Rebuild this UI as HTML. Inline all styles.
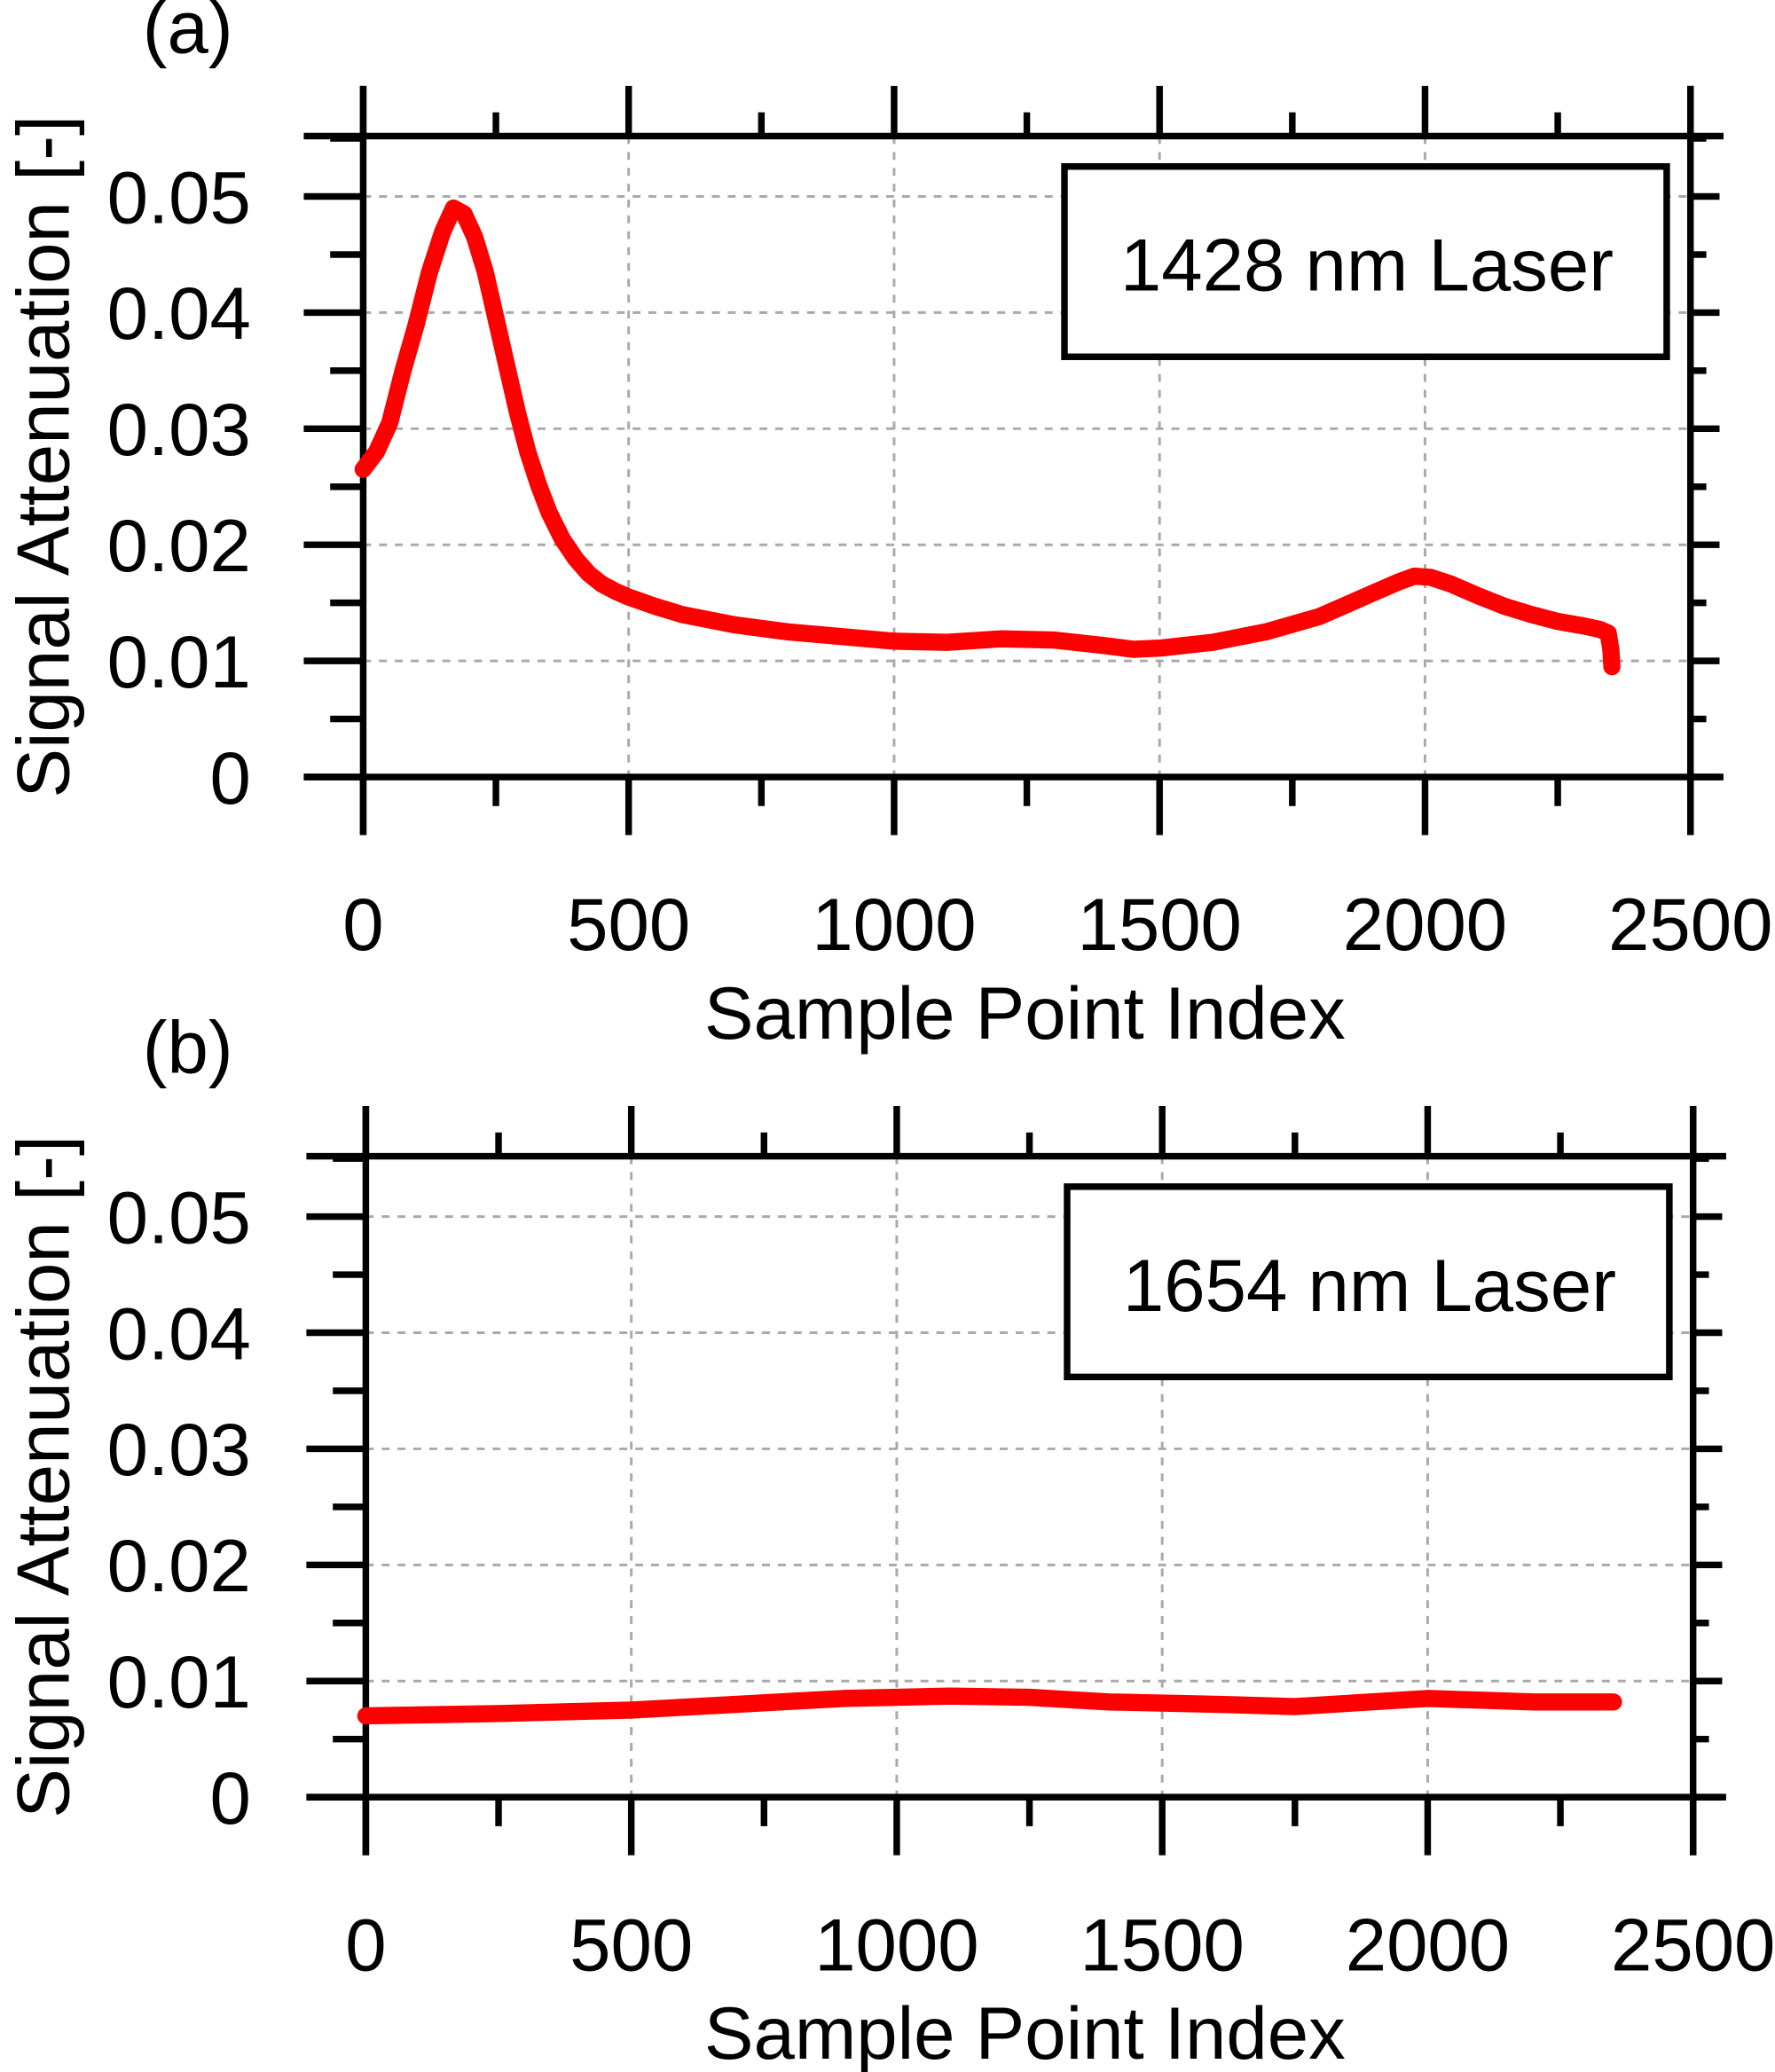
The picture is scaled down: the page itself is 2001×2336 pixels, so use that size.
<!DOCTYPE html>
<html><head><meta charset="utf-8"><style>
html,body{margin:0;padding:0;background:#fff}
svg{display:block}
text{font-family:"Liberation Sans",Arial,sans-serif;fill:#000}
</style></head><body>
<svg id="chart" width="2001" height="2336" viewBox="0 0 1344 1568" preserveAspectRatio="none" xmlns="http://www.w3.org/2000/svg"></svg>
<script>
const xTicks=[0,500,1000,1500,2000,2500];
const yTicks=[0,0.01,0.02,0.03,0.04,0.05];
const yTickLabels=["0","0.01","0.02","0.03","0.04","0.05"];
const aX=[0,25,50,75,100,125,150,170,190,210,230,250,270,290,310,330,350,375,400,425,450,475,500,550,600,700,800,900,1000,1100,1200,1300,1400,1450,1500,1600,1700,1800,1900,1950,1980,2010,2050,2100,2150,2200,2250,2300,2330,2345,2350,2352];
const aY=[0.0265,0.028,0.0305,0.035,0.039,0.0435,0.047,0.049,0.0485,0.0465,0.0435,0.0395,0.0355,0.0315,0.028,0.0252,0.0228,0.0205,0.0188,0.0175,0.0166,0.016,0.0155,0.0147,0.014,0.0131,0.0125,0.0121,0.0117,0.0116,0.0119,0.0118,0.0113,0.011,0.0111,0.0116,0.0125,0.0138,0.0158,0.0168,0.0173,0.0172,0.0166,0.0156,0.0147,0.014,0.0134,0.013,0.0127,0.0124,0.011,0.0095];
const bX=[0,250,500,700,900,1100,1250,1400,1600,1750,2000,2200,2350];
const bY=[0.0070,0.0072,0.0075,0.0080,0.0085,0.0087,0.0086,0.0082,0.0080,0.0078,0.0085,0.0082,0.0082];
const svg=document.getElementById('chart');
const NS="http://www.w3.org/2000/svg";
function mk(tag,attrs,parent){const e=document.createElementNS(NS,tag);for(const k in attrs)e.setAttribute(k,attrs[k]);(parent||svg).appendChild(e);return e;}
function panel(top,left,tag,label,xs,ys,name){
  const right=left+1005,bottom=top+485;
  const sx=v=>left+v/2500*(right-left);
  const sy=v=>bottom-v/0.0552*(bottom-top);
  const g=mk('g',{});
  
  
  xTicks.slice(1,5).forEach(t=>{const l=mk('line',{x1:sx(t),x2:sx(t),y1:top,y2:bottom,stroke:'#aaa','stroke-width':2,'stroke-dasharray':'6,6'},g);});
  yTicks.slice(1).forEach(t=>{const l=mk('line',{x1:left,x2:right,y1:sy(t),y2:sy(t),stroke:'#aaa','stroke-width':2,'stroke-dasharray':'6,6'},g);});
  const fr=[[left-45,top,right+25,top],[left-45,bottom,right+25,bottom],[left,top-38,left,bottom+44],[right,top-38,right,bottom+44]];
  fr.forEach(f=>{const l=mk('line',{x1:f[0],y1:f[1],x2:f[2],y2:f[3],stroke:'#000','stroke-width':5},g);});
  for(let t=0;t<=2500;t+=250){const maj=t%500===0;const x=sx(t);
    mk('line',{x1:x,x2:x,y1:top,y2:top-(maj?38:18),stroke:'#000','stroke-width':5},g);
    mk('line',{x1:x,x2:x,y1:bottom,y2:bottom+(maj?44:22),stroke:'#000','stroke-width':5},g);}
  for(let i=0;i<=11;i++){const t=i*0.005;const maj=i%2===0;const y=sy(t);
    mk('line',{x1:left,x2:left-(maj?45:25),y1:y,y2:y,stroke:'#000','stroke-width':5},g);
    mk('line',{x1:right,x2:right+(maj?22:12),y1:y,y2:y,stroke:'#000','stroke-width':5},g);}
  xTicks.forEach(t=>{const tx=mk('text',{x:sx(t),y:bottom+131,'font-size':56,'text-anchor':'middle'},g);tx.textContent=t;});
  yTicks.forEach((t,i)=>{const tx=mk('text',{x:190,y:sy(t)+20,'font-size':56,'text-anchor':'end'},g);tx.textContent=yTickLabels[i];});
  const xt=mk('text',{x:776,y:bottom+198,'font-size':56,'text-anchor':'middle'},g);xt.textContent='Sample Point Index';
  
  const cy=(top+bottom)/2;
  const yt=mk('text',{x:52,y:cy,'font-size':56,'text-anchor':'middle',transform:`rotate(-90 52 ${cy})`},g);yt.textContent='Signal Attenuation [-]';
  
  const pl=mk('text',{x:108,y:top-63,'font-size':56},g);pl.textContent=tag;
  
  const lb=mk('rect',{x:left+531,y:top+23,width:456,height:144,fill:'#fff',stroke:'#000','stroke-width':5},g);
  
  const lt=mk('text',{x:left+760,y:top+117,'font-size':56,'text-anchor':'middle'},g);lt.textContent=label;
  
  const pts=xs.map((v,i)=>sx(v)+','+sy(ys[i])).join(' ');
  const line=mk('polyline',{points:pts,fill:'none',stroke:'#ff0000','stroke-width':13,'stroke-linejoin':'round','stroke-linecap':'round'},g);
  
  
}
panel(103,275,'(a)','1428 nm Laser',aX,aY,'panel-a');
panel(875,277,'(b)','1654 nm Laser',bX,bY,'panel-b');
</script>
</body></html>
